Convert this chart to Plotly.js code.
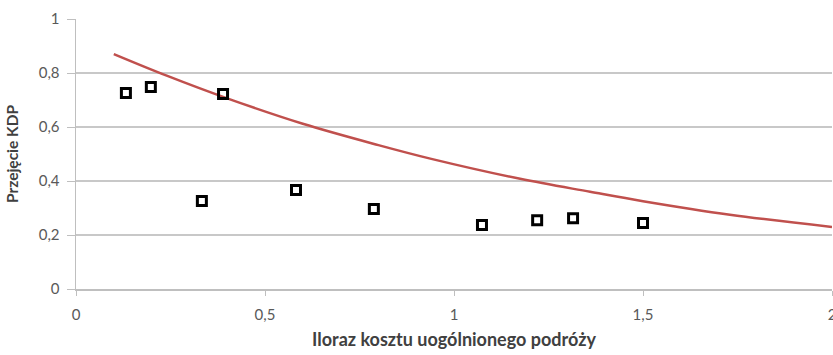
<!DOCTYPE html>
<html>
<head>
<meta charset="utf-8">
<script src="https://cdn.plot.ly/plotly-3.0.1.min.js"></script>
<style>html,body{margin:0;padding:0;background:#fff;}#chart{width:833px;height:355px;}</style>
</head>
<body>
<div id="chart"></div>
<script>
// Observed points (Iloraz kosztu, Przejęcie KDP)
const obsX = [0.132, 0.198, 0.333, 0.389, 0.582, 0.788, 1.074, 1.220, 1.315, 1.500];
const obsY = [0.726, 0.748, 0.326, 0.722, 0.367, 0.296, 0.237, 0.255, 0.262, 0.244];
// Curve
const curveX = [0.10, 0.24, 0.40, 0.60, 0.80, 0.94, 1.175, 1.36, 1.50, 1.73, 2.00];
const curveY = [0.870, 0.790, 0.706, 0.612, 0.533, 0.482, 0.408, 0.360, 0.325, 0.275, 0.230];
const xTicks = [0, 0.5, 1, 1.5, 2];
const xTickText = ['0', '0,5', '1', '1,5', '2'];
const yTicks = [0, 0.2, 0.4, 0.6, 0.8, 1];
const yTickText = ['0', '0,2', '0,4', '0,6', '0,8', '1'];

const fontFam = 'Lato, "Open Sans", sans-serif';
const traces = [
  {
    x: curveX, y: curveY, type: 'scatter', mode: 'lines',
    line: {color: '#c0504d', width: 2.5, shape: 'spline', smoothing: 1},
    hoverinfo: 'skip', showlegend: false
  },
  {
    x: obsX, y: obsY, type: 'scatter', mode: 'markers',
    marker: {symbol: 'square-open', size: 9, color: '#000000', line: {width: 3, color: '#000000'}},
    showlegend: false
  }
];
const layout = {
  width: 833, height: 355,
  margin: {l: 76, r: 1, t: 19, b: 66},
  paper_bgcolor: '#ffffff', plot_bgcolor: '#ffffff',
  font: {family: fontFam, size: 15, color: '#595959'},
  showlegend: false,
  xaxis: {
    range: [0, 2], tickvals: xTicks, ticktext: xTickText,
    showgrid: false, zeroline: false,
    showline: true, linecolor: '#bfbfbf', linewidth: 1.5,
    ticks: 'outside', ticklen: 5, tickcolor: '#bfbfbf', tickwidth: 1,
    ticklabelstandoff: 6, ticklabeloverflow: 'allow',
    tickfont: {family: fontFam, size: 15, color: '#595959'},
    title: {text: 'Iloraz kosztu uogólnionego podróży', font: {family: fontFam, size: 18, color: '#404040', weight: 'bold'}, standoff: 12}
  },
  yaxis: {
    range: [0, 1], tickvals: yTicks, ticktext: yTickText,
    showgrid: true, gridcolor: '#c8c8c8', gridwidth: 1.5, zeroline: false,
    showline: true, linecolor: '#bfbfbf', linewidth: 1.5,
    ticks: 'outside', ticklen: 8, tickcolor: '#bfbfbf', tickwidth: 1,
    ticklabelstandoff: 4, ticklabeloverflow: 'allow',
    tickfont: {family: fontFam, size: 15, color: '#595959'},
    title: {text: 'Przejęcie KDP', font: {family: fontFam, size: 15.5, color: '#404040', weight: 'bold'}, standoff: 16}
  }
};
Plotly.newPlot('chart', traces, layout, {displayModeBar: false, staticPlot: true});
</script>
</body>
</html>
